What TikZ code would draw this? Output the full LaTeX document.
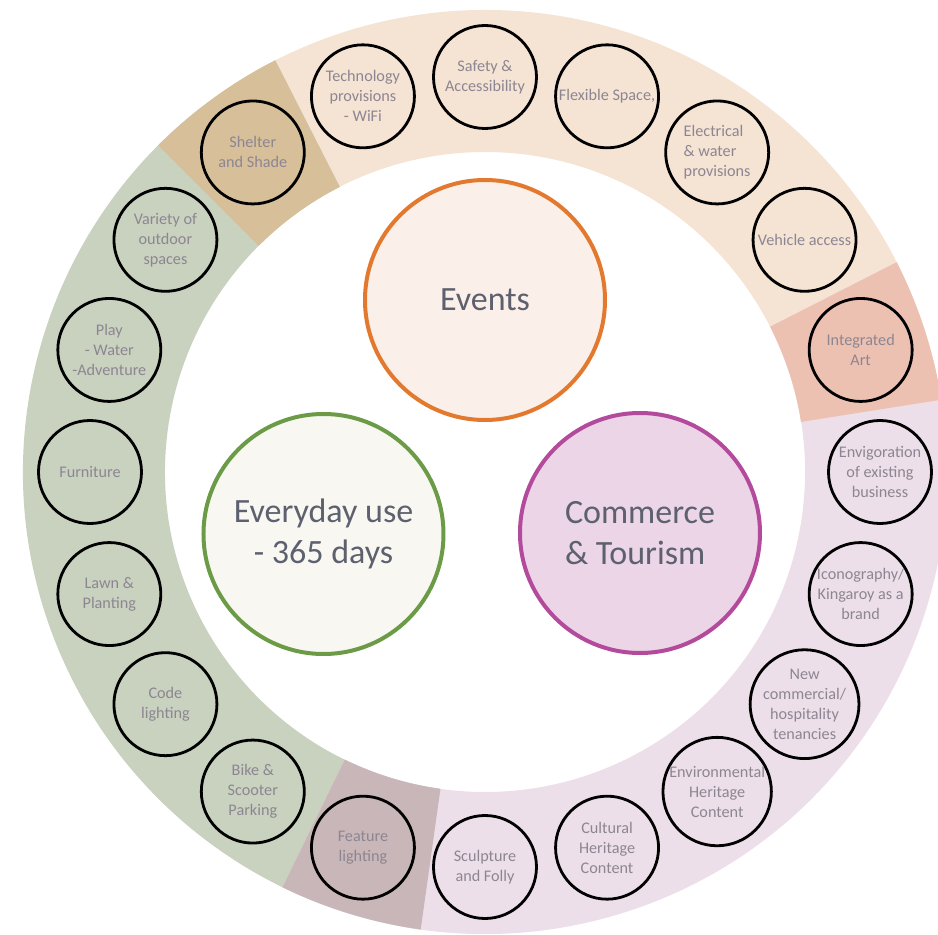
\documentclass[tikz,border=0pt]{standalone}
\usepackage{fontspec}
\setmainfont{Carlito}
\definecolor{bandorange}{HTML}{F5E3D4}
\definecolor{bandgreen}{HTML}{C9D1BF}
\definecolor{bandpurple}{HTML}{EDDFE9}
\definecolor{ovtan}{HTML}{D7BF9A}
\definecolor{ovsalmon}{HTML}{EDC1B1}
\definecolor{ovmauve}{HTML}{C9B6B8}
\definecolor{eventsfill}{HTML}{FBF0E9}
\definecolor{eventsline}{HTML}{E2792F}
\definecolor{dailyfill}{HTML}{F8F7F2}
\definecolor{dailyline}{HTML}{6B9B46}
\definecolor{commfill}{HTML}{EBD5E7}
\definecolor{commline}{HTML}{B44A9C}
\definecolor{smalltext}{HTML}{8C8692}
\definecolor{bigtext}{HTML}{5D606E}
\newcommand\bandsector[3]{%
  \fill[#3] (#1:320pt) -- (#1:462pt) arc[start angle=#1, end angle=#2, radius=462pt]
    -- (#2:320pt) arc[start angle=#2, end angle=#1, radius=320pt] -- cycle;}
\begin{document}
\begin{tikzpicture}[x=1pt,y=1pt,
  item/.style={circle, draw=black, line width=2.8pt, minimum size=103pt, inner sep=0pt,
    align=center, text=smalltext, font=\fontsize{16.2}{20}\selectfont},
  hub/.style={circle, line width=4pt, minimum size=240pt, inner sep=0pt,
    text=bigtext, font=\fontsize{34}{41.5}\selectfont}]
\useasboundingbox (-485pt,-463pt) rectangle (453pt,472pt);
% bands
\bandsector{9}{135}{bandorange}
\bandsector{117}{262}{bandgreen}
\bandsector{-116}{27}{bandpurple}
% overlaps
\bandsector{117}{135}{ovtan}
\bandsector{9}{27}{ovsalmon}
\bandsector{244}{262}{ovmauve}
% hubs
\node[hub, draw=eventsline, fill=eventsfill, align=center] (events) at (0pt,172pt) {Events};
\node[hub, draw=dailyline, fill=dailyfill, align=center] (daily) at (-161.5pt,-62pt) {Everyday use\\- 365 days};
\node[hub, draw=commline, fill=commfill, align=left] (commerce) at (155pt,-61pt) {Commerce\\\& Tourism};
% ring items
\node[item] (safety) at (90:395pt) {Safety \&\\Accessibility};
\node[item] (flex) at (72:395pt) {Flexible Space,};
\node[item, align=left] (elec) at (54:395pt) {Electrical\\\& water\\provisions};
\node[item] (vehicle) at (36:395pt) {Vehicle access};
\node[item] (art) at (18:395pt) {Integrated\\Art};
\node[item] (envig) at (0:395pt) {Envigoration\\of existing\\business};
\node[item] (icon) at (-18:395pt) {Iconography/\\Kingaroy as a\\brand};
\node[item] (newcomm) at (-36:395pt) {New\\commercial/\\hospitality\\tenancies};
\node[item] (envher) at (-54:395pt) {Environmental\\Heritage\\Content};
\node[item] (culther) at (-72:395pt) {Cultural\\Heritage\\Content};
\node[item] (sculpt) at (-90:395pt) {Sculpture\\and Folly};
\node[item] (feature) at (-108:395pt) {Feature\\lighting};
\node[item] (bike) at (-126:395pt) {Bike \&\\Scooter\\Parking};
\node[item] (code) at (-144:395pt) {Code\\lighting};
\node[item] (lawn) at (-162:395pt) {Lawn \&\\Planting};
\node[item] (furn) at (180:395pt) {Furniture};
\node[item] (play) at (162:395pt) {Play\\- Water\\-Adventure};
\node[item] (variety) at (144:395pt) {Variety of\\outdoor\\spaces};
\node[item] (shelter) at (126:395pt) {Shelter\\and Shade};
\node[item] (tech) at (108:395pt) {Technology\\provisions\\- WiFi};
\end{tikzpicture}
\end{document}
